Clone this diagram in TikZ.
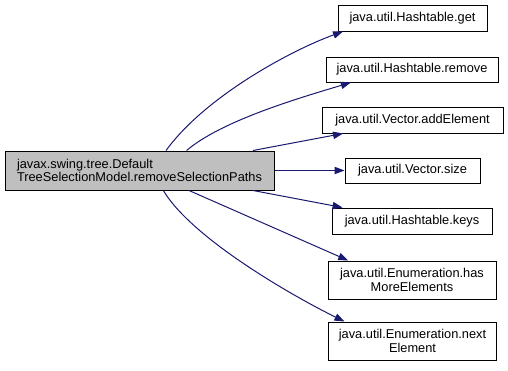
\documentclass[tikz,border=0pt]{standalone}
\usepackage{fontspec}
\setmainfont{Liberation Sans}
\usetikzlibrary{arrows.meta}
\definecolor{edgeblue}{HTML}{191970}
\definecolor{mainfill}{HTML}{BFBFBF}
\tikzset{
    fn/.style={draw=black, fill=white, line width=0.75pt, inner sep=0pt, align=center, font=\fontsize{9.6}{10}\selectfont},
    fnsize/.style 2 args={minimum width=#1*0.75pt, minimum height=#2*0.75pt},
    call/.style={draw=edgeblue, line width=0.75pt, -{Triangle[length=7.5pt,width=5.5pt]}},
}

\begin{document}
\begin{tikzpicture}[x=0.75pt, y=-0.75pt]
\useasboundingbox (0,0) rectangle (508,371);
\node[fn, fill=mainfill, align=left, fnsize={269}{39}] (remove_paths) at (139.5,170.5) {javax.swing.tree.Default\\TreeSelectionModel.removeSelectionPaths};
\node[fn, fnsize={149}{26}] (ht_get) at (412.5,18) {java.util.Hashtable.get};
\node[fn, fnsize={172}{25}] (ht_remove) at (412,69.5) {java.util.Hashtable.remove};
\node[fn, fnsize={181}{26}] (vec_add) at (412.5,120) {java.util.Vector.addElement};
\node[fn, fnsize={135}{25}] (vec_size) at (412.5,170.5) {java.util.Vector.size};
\node[fn, fnsize={160}{26}] (ht_keys) at (412,221) {java.util.Hashtable.keys};
\node[fn, fnsize={168}{38}] (en_has) at (412,280) {java.util.Enumeration.has\\MoreElements};
\node[fn, fnsize={168}{38}] (en_next) at (412.5,341) {java.util.Enumeration.next\\Element};

\draw[call] (remove_paths.37) .. controls +(40,-55) and +(-50,18) .. (ht_get.191);
\draw[call] (remove_paths.23) .. controls +(35,-30) and +(-50,15) .. (ht_remove.192);
\draw[call] (remove_paths.10) -- (vec_add.191);
\draw[call] (remove_paths.east) -- (vec_size.west);
\draw[call] (remove_paths.350) -- (ht_keys.169);
\draw[call] (remove_paths.338) -- (en_has.163);
\draw[call] (remove_paths.320) .. controls +(30,50) and +(-45,-22) .. (en_next.164);
\end{tikzpicture}
\end{document}
